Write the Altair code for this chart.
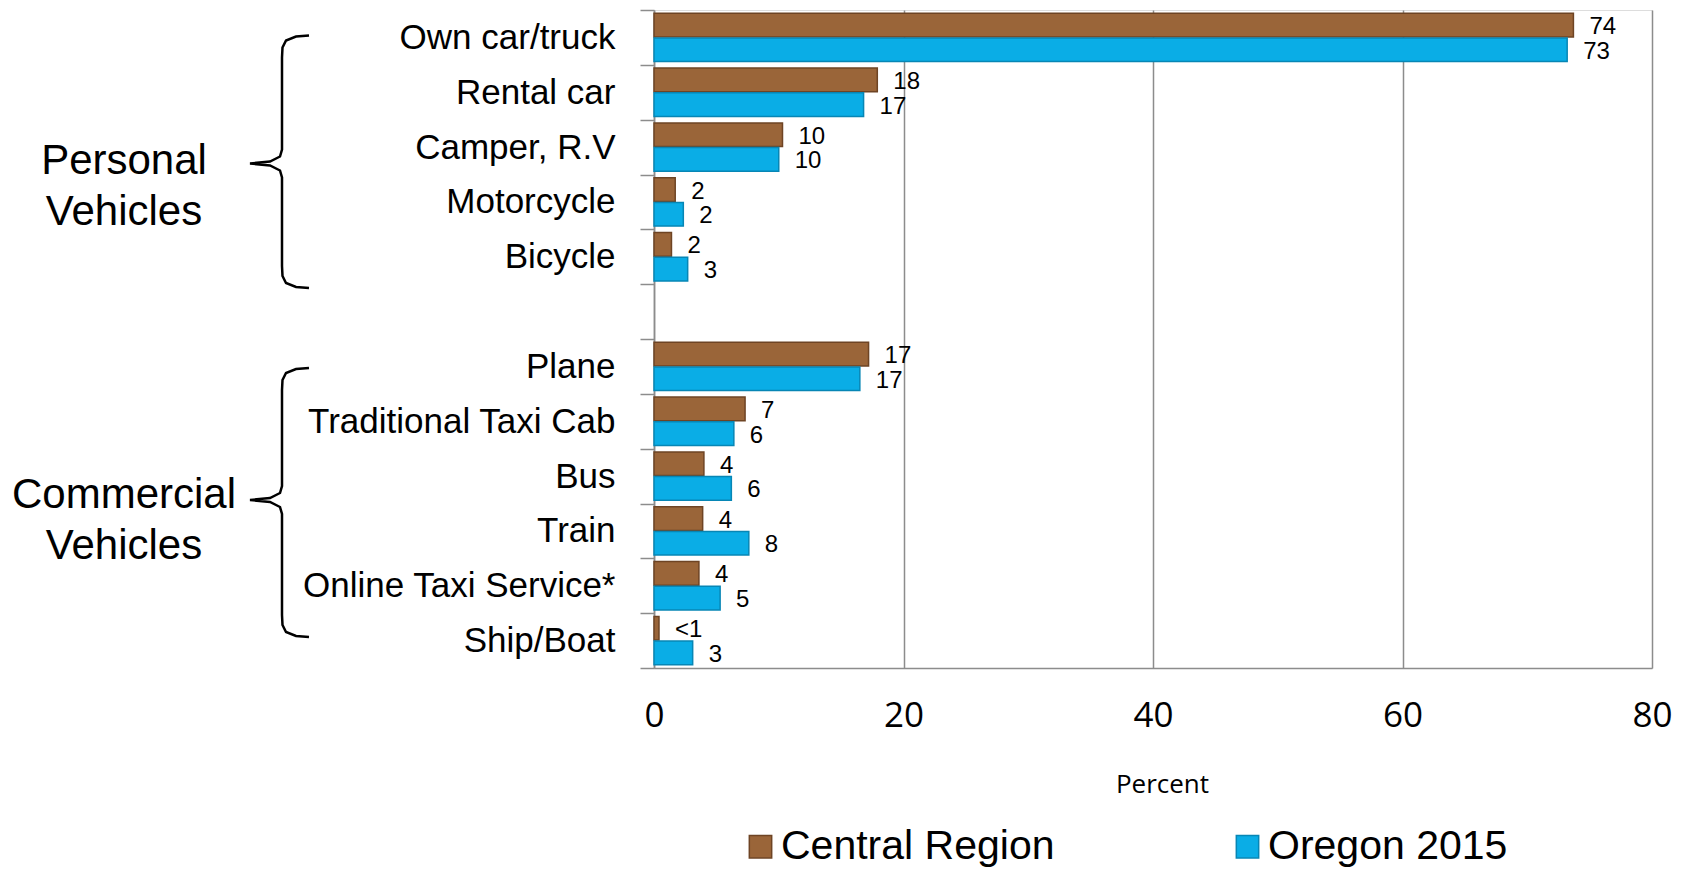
import altair as alt
import pandas as pd

categories = ["Own car/truck", "Rental car", "Camper, R.V", "Motorcycle", "Bicycle",
              "Plane", "Traditional Taxi Cab ", "Bus", "Train", "Online Taxi Service*", "Ship/Boat"]
central = [73.7, 17.9, 10.3, 1.7, 1.4, 17.2, 7.3, 4.0, 3.9, 3.6, 0.4]
oregon = [73.2, 16.8, 10.0, 2.35, 2.7, 16.5, 6.4, 6.2, 7.6, 5.3, 3.1]
central_labels = ["74", "18", "10", "2", "2", "17", "7", "4", "4", "4", "<1"]
oregon_labels = ["73", "17", "10", "2", "3", "17", "6", "6", "8", "5", "3"]
series = ["Central Region", "Oregon 2015"]
x_ticks = [0, 20, 40, 60, 80]
groups = [["Personal", "Vehicles"], ["Commercial", "Vehicles"]]

BROWN = "#9A6539"
BLUE = "#0AADE6"
BROWN_EDGE = "#6E4424"
BLUE_EDGE = "#0786B5"
GRID = "#8C8C8C"

domain = categories[:5] + [" "] + categories[5:]

rows = []
for c, v1, v2, l1, l2 in zip(categories, central, oregon, central_labels, oregon_labels):
    rows.append({"cat": c, "series": series[0], "value": v1, "label": l1})
    rows.append({"cat": c, "series": series[1], "value": v2, "label": l2})
df = pd.DataFrame(rows)

W, H = 998, 658

xenc = alt.X("value:Q", scale=alt.Scale(domain=[0, 80], nice=False),
             axis=alt.Axis(values=x_ticks, title="Percent", grid=True, gridColor=GRID,
                           gridWidth=1.5, domainColor=GRID, domainWidth=1.5, ticks=False,
                           labelFlush=False,
                           labelFont="Open Sans", labelFontSize=35, labelColor="black",
                           labelPadding=30, titleFont="Open Sans", titleFontSize=26,
                           titleFontWeight="normal", titleColor="black", titlePadding=38,
                           titleX=W / 2 + 9))
yenc = alt.Y("cat:N", scale=alt.Scale(domain=domain, paddingInner=0, paddingOuter=0),
             sort=domain,
             axis=alt.Axis(title=None, tickBand="extent", ticks=True, tickSize=14,
                           tickColor=GRID, tickWidth=1.5, domainColor=GRID, domainWidth=1.5,
                           labelFont="Liberation Sans", labelFontSize=35,
                           labelColor="black", labelPadding=25, labelLimit=600, grid=False))
yoff = alt.YOffset("series:N", sort=series,
                   scale=alt.Scale(paddingInner=0.04, paddingOuter=0.13))

bars = alt.Chart(df).mark_bar(strokeWidth=1.5).encode(
    x=xenc, y=yenc, yOffset=yoff,
    color=alt.Color("series:N", sort=series,
                    scale=alt.Scale(domain=series, range=[BROWN, BLUE]),
                    legend=alt.Legend(title=None, orient="none", direction="horizontal",
                                      legendX=86, legendY=816, columnPadding=172,
                                      symbolType="square", symbolSize=500,
                                      symbolStrokeWidth=1.5, labelOffset=0,
                                      labelFont="Liberation Sans", labelFontSize=41,
                                      labelColor="black", labelLimit=600)),
    stroke=alt.Stroke("series:N", sort=series,
                      scale=alt.Scale(domain=series, range=[BROWN_EDGE, BLUE_EDGE]),
                      legend=None),
)

texts = alt.Chart(df).mark_text(align="left", baseline="middle", dx=16, dy=2,
                                font="Liberation Sans", fontSize=24, color="black").encode(
    x=alt.X("value:Q"), y=alt.Y("cat:N", sort=domain), yOffset=alt.YOffset("series:N", sort=series),
    text="label:N",
)

main = alt.layer(bars, texts)


# decorative braces (pixel geometry relative to plot origin)
def brace(name, top, bottom, tip_y, x_line=-372, x_end=-345, x_tip=-404):
    pts = [(x_end, top), (x_end - 13, top + 1), (x_line + 4, top + 5), (x_line + 0.5, top + 12),
           (x_line, top + 22), (x_line, tip_y - 14), (x_line - 2, tip_y - 7), (x_line - 12, tip_y - 2),
           (x_tip, tip_y), (x_line - 12, tip_y + 2), (x_line - 2, tip_y + 7), (x_line, tip_y + 14),
           (x_line, bottom - 22), (x_line + 0.5, bottom - 12), (x_line + 4, bottom - 5),
           (x_end - 13, bottom - 1), (x_end, bottom)]
    return [{"b": name, "i": i, "px": p[0], "py": p[1]} for i, p in enumerate(pts)]


bdf = pd.DataFrame(brace("p", 25.5, 278, 153.5) + brace("c", 358, 627, 490))
brace_layer = alt.Chart(bdf).mark_line(color="black", strokeWidth=2.5).encode(
    x=alt.X("px:Q", scale=None, axis=None),
    y=alt.Y("py:Q", scale=None, axis=None),
    detail="b:N", order="i:Q",
)

gdf = pd.DataFrame({"gx": [-530, -530], "gy": [151, 485], "txt": groups})
group_layer = alt.Chart(gdf).mark_text(font="Liberation Sans", fontSize=42, color="black",
                                       align="center", baseline="middle", lineHeight=51).encode(
    x=alt.X("gx:Q", scale=None, axis=None),
    y=alt.Y("gy:Q", scale=None, axis=None),
    text="txt",
)

annot = alt.layer(brace_layer, group_layer)

chart = alt.layer(main, annot).resolve_scale(x="independent", y="independent").properties(
    width=W, height=H,
    autosize=alt.AutoSizeParams(type="none"),
    padding={"left": 646, "top": 2, "right": 27, "bottom": 200},
).configure_view(stroke=None).configure(background="white")

chart.save("out.html", embed_options={"renderer": "svg", "actions": False})
